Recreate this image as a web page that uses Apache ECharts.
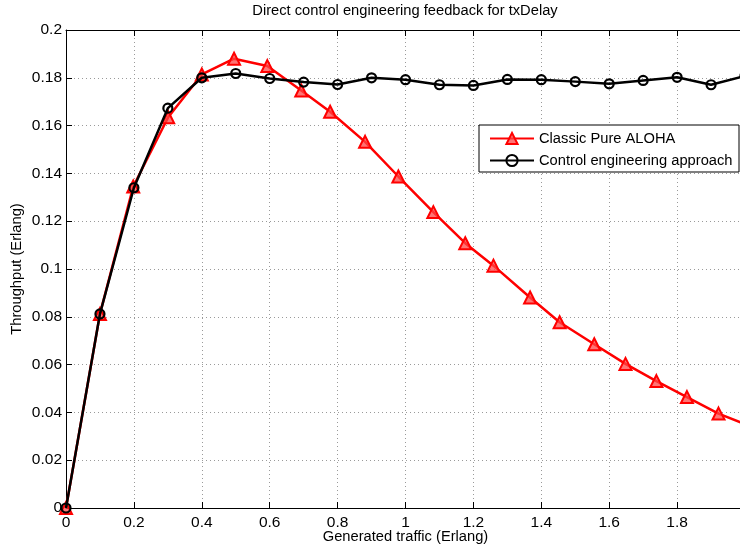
<!DOCTYPE html>
<html>
<head>
<meta charset="utf-8">
<script src="https://cdn.jsdelivr.net/npm/echarts@6/dist/echarts.min.js"></script>
<style>
  html, body { margin: 0; padding: 0; background: #fff; }
  #chart { width: 740px; height: 549px; }
</style>
</head>
<body>
<div id="chart"></div>
<script>
// Generated traffic (Erlang) and throughput (Erlang) for each approach
const alohaTraffic = [0, 0.1, 0.198, 0.301, 0.400, 0.495, 0.593, 0.693, 0.778, 0.881, 0.979, 1.082, 1.176, 1.259, 1.367, 1.454, 1.556, 1.648, 1.739, 1.829, 1.922, 2.01];
const alohaThroughput = [0, 0.0812, 0.1345, 0.1635, 0.1814, 0.1880, 0.1849, 0.1747, 0.1658, 0.1532, 0.1387, 0.1238, 0.1108, 0.1014, 0.0881, 0.0777, 0.0685, 0.0603, 0.0531, 0.0464, 0.0395, 0.0345];

const controlTraffic = [0, 0.1, 0.2, 0.3, 0.4, 0.5, 0.6, 0.7, 0.8, 0.9, 1.0, 1.1, 1.2, 1.3, 1.4, 1.5, 1.6, 1.7, 1.8, 1.9, 2.0];
const controlThroughput = [0, 0.0812, 0.1340, 0.1673, 0.1800, 0.1818, 0.1797, 0.1782, 0.1772, 0.1800, 0.1792, 0.1771, 0.1768, 0.1793, 0.1792, 0.1784, 0.1775, 0.1789, 0.1802, 0.1771, 0.1808];

const seriesNames = ['Classic Pure ALOHA', 'Control engineering approach'];
const chartTitle = 'Direct control engineering feedback for txDelay';
const xTitle = 'Generated traffic (Erlang)';
const yTitle = 'Throughput (Erlang)';

const FONT = 'Liberation Sans, Arial, Helvetica, sans-serif';
const TEXT_SIZE = 14.7;
const TICK_SIZE = 15.5;

const zip = (xs, ys) => xs.map((x, i) => [x, ys[i]]);

const chart = echarts.init(document.getElementById('chart'), null, { renderer: 'canvas' });

const gridLine = { show: true, lineStyle: { color: '#9a9a9a', width: 1, type: [1, 3] } };

chart.setOption({
  animation: false,
  backgroundColor: '#fff',
  title: {
    text: chartTitle,
    left: 405,
    top: 3,
    padding: 0,
    textAlign: 'center',
    textStyle: { fontFamily: FONT, fontSize: TEXT_SIZE, fontWeight: 'normal', color: '#000' }
  },
  // the plot box runs a few pixels past the right edge of the canvas
  grid: { left: 66, top: 30, width: 679, height: 478, containLabel: false, outerBoundsMode: 'none' },
  graphic: [{
    type: 'rect',
    z: 3,
    shape: { x: 479, y: 125, width: 260, height: 47 },
    style: { fill: '#fff', stroke: '#000', lineWidth: 1 }
  }],
  legend: {
    orient: 'vertical',
    left: 489,
    top: 131,
    padding: 0,
    itemWidth: 44,
    itemHeight: 14,
    itemGap: 7,
    z: 5,
    textStyle: { fontFamily: FONT, fontSize: TEXT_SIZE, color: '#000' },
    data: seriesNames
  },
  xAxis: [{
    type: 'value',
    min: 0,
    max: 2,
    interval: 0.2,
    position: 'bottom',
    name: xTitle,
    nameLocation: 'middle',
    nameGap: 21,
    nameMoveOverlap: false,
    nameTextStyle: { fontFamily: FONT, fontSize: TEXT_SIZE, color: '#000' },
    axisLine: { show: true, onZero: false, lineStyle: { color: '#000', width: 1 } },
    axisTick: { show: true, inside: true, length: 6, lineStyle: { color: '#000' } },
    axisLabel: {
      fontFamily: FONT, fontSize: TICK_SIZE, color: '#000', margin: 7,
      formatter: v => (v >= 2 ? '' : String(v))
    },
    splitLine: gridLine
  }, {
    type: 'value',
    min: 0,
    max: 2,
    interval: 0.2,
    position: 'top',
    axisLine: { show: true, onZero: false, lineStyle: { color: '#000', width: 1 } },
    axisTick: { show: true, inside: true, length: 6, lineStyle: { color: '#000' } },
    axisLabel: { show: false },
    splitLine: { show: false }
  }],
  yAxis: {
    type: 'value',
    min: 0,
    max: 0.2,
    interval: 0.02,
    name: yTitle,
    nameLocation: 'middle',
    nameRotate: 90,
    nameGap: 42,
    nameMoveOverlap: false,
    nameTextStyle: { fontFamily: FONT, fontSize: TEXT_SIZE, color: '#000' },
    axisLine: { show: true, onZero: false, lineStyle: { color: '#000', width: 1 } },
    axisTick: { show: true, inside: true, length: 6, lineStyle: { color: '#000' } },
    axisLabel: { fontFamily: FONT, fontSize: TICK_SIZE, color: '#000', margin: 4 },
    splitLine: gridLine
  },
  series: [{
    name: seriesNames[0],
    type: 'line',
    z: 2,
    data: zip(alohaTraffic, alohaThroughput),
    symbol: 'triangle',
    symbolSize: 12,
    showAllSymbol: true,
    lineStyle: { color: '#ff0000', width: 2.5 },
    itemStyle: { color: 'rgba(255,70,70,0.75)', borderColor: '#ff0000', borderWidth: 2 }
  }, {
    name: seriesNames[1],
    type: 'line',
    z: 3,
    data: zip(controlTraffic, controlThroughput),
    symbol: 'circle',
    symbolSize: 9,
    showAllSymbol: true,
    lineStyle: { color: '#000', width: 2.5 },
    itemStyle: { color: 'rgba(0,0,0,0)', borderColor: '#000', borderWidth: 2.2 }
  }]
});
</script>
</body>
</html>
